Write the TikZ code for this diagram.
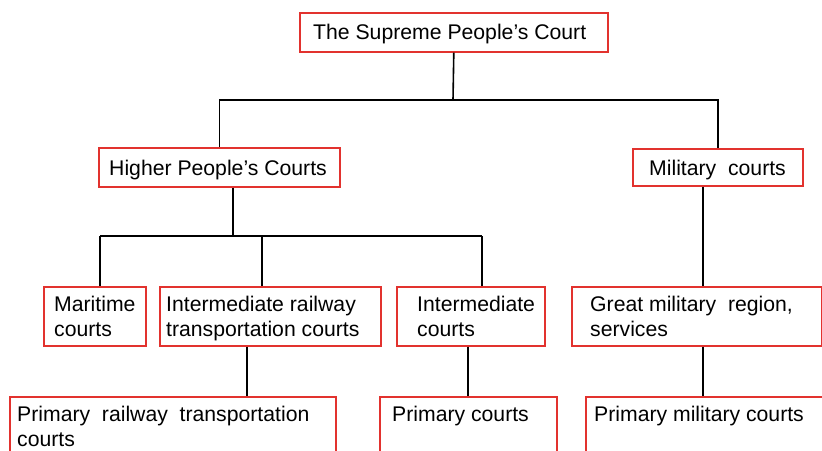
\documentclass[tikz,border=0pt]{standalone}
\usepackage{fontspec}
\setmainfont{Liberation Sans}
\definecolor{courtred}{RGB}{226,50,46}
\begin{document}
\begin{tikzpicture}[x=1pt,y=-1pt,
  court/.style={draw=courtred, line width=1.6pt, fill=white, inner sep=0pt, anchor=north west},
  courttext/.style={inner sep=0pt, anchor=base west, font=\fontsize{21.2}{25.3}\selectfont},
  link/.style={line width=1.6pt, black}]
\useasboundingbox (0,0) rectangle (822,450);
\clip (0,0) rectangle (822,450);

% ---- boxes ----
\node[court, minimum width=308pt, minimum height=39pt] (sup) at (299,12) {};
\node[court, minimum width=241pt, minimum height=39pt] (hpc) at (98,147) {};
\node[court, minimum width=170pt, minimum height=37pt] (mil) at (632,148) {};

\node[court, minimum width=102pt, minimum height=59pt] (mar) at (43,286) {};
\node[court, minimum width=221pt, minimum height=59pt] (irt) at (159,286) {};
\node[court, minimum width=148pt, minimum height=59pt] (inc) at (396,286) {};
\node[court, minimum width=250pt, minimum height=59pt] (gmr) at (571,286) {};

\node[court, minimum width=326pt, minimum height=80pt] (prt) at (9,396) {};
\node[court, minimum width=177pt, minimum height=80pt] (prc) at (379,396) {};
\node[court, minimum width=260pt, minimum height=80pt] (pmc) at (585,396) {};

% ---- texts ----
\node[courttext] (sup-t) at ([shift={(14,27)}]sup.north west) {The Supreme People’s Court};
\node[courttext] (hpc-t) at ([shift={(11,28)}]hpc.north west) {Higher People’s Courts};
\node[courttext] (mil-t) at ([shift={(17,27)}]mil.north west) {Military\ \ courts};

\node[courttext] (mar-t) at ([shift={(11,25)}]mar.north west)
  {\begin{tabular}[t]{@{}l@{}}Maritime\\courts\end{tabular}};
\node[courttext] (irt-t) at ([shift={(7,25)}]irt.north west)
  {\begin{tabular}[t]{@{}l@{}}Intermediate railway\\transportation courts\end{tabular}};
\node[courttext] (inc-t) at ([shift={(21,25)}]inc.north west)
  {\begin{tabular}[t]{@{}l@{}}Intermediate\\courts\end{tabular}};
\node[courttext] (gmr-t) at ([shift={(19,25)}]gmr.north west)
  {\begin{tabular}[t]{@{}l@{}}Great military\ \ region,\\services\end{tabular}};

\node[courttext] (prt-t) at ([shift={(8,25)}]prt.north west)
  {\begin{tabular}[t]{@{}l@{}}Primary\ \ railway\ \ transportation\\courts\end{tabular}};
\node[courttext] (prc-t) at ([shift={(13,25)}]prc.north west) {Primary courts};
\node[courttext] (pmc-t) at ([shift={(9,25)}]pmc.north west) {Primary military courts};

% ---- connectors ----
\coordinate (top) at (453,100);
\draw[link] (sup.south) -- (top);
\draw[link] (hpc.north) |- (top) -| (mil.north);

\coordinate (bus1) at (100,236);
\coordinate (bus2) at (262,236);
\coordinate (bus3) at (482,236);
\coordinate (hdrop) at (233,236);
\draw[link] (hdrop |- hpc.south) -- (hdrop);
\draw[link] (bus1) -- (bus3);
\draw[link] (bus1) -- (bus1 |- mar.north);
\draw[link] (bus2) -- (bus2 |- irt.north);
\draw[link] (bus3) -- (bus3 |- inc.north);

\coordinate (mdrop) at (703,0);
\draw[link] (mdrop |- mil.south) -- (mdrop |- gmr.north);
\draw[link] (mdrop |- gmr.south) -- (mdrop |- pmc.north);

\coordinate (rdrop) at (247,0);
\draw[link] (rdrop |- irt.south) -- (rdrop |- prt.north);
\coordinate (cdrop) at (468,0);
\draw[link] (cdrop |- inc.south) -- (cdrop |- prc.north);
\end{tikzpicture}
\end{document}
